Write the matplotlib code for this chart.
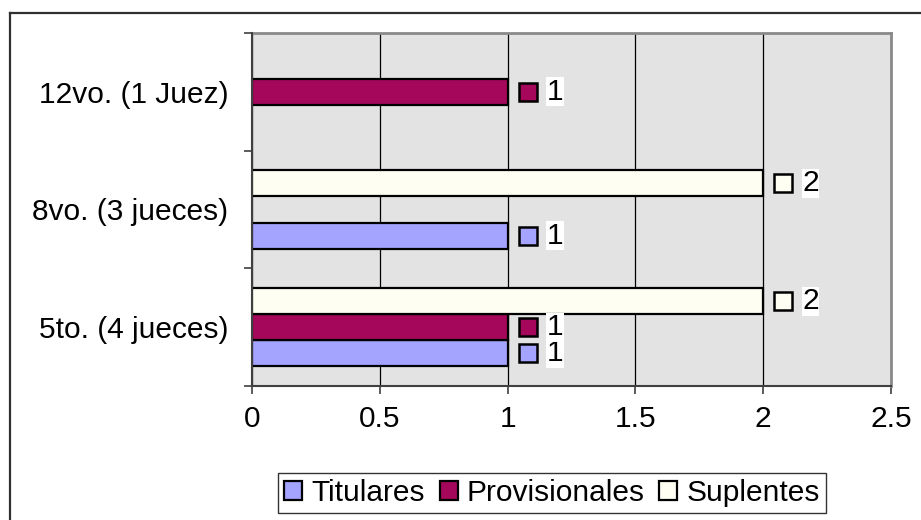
import numpy as np
import matplotlib.pyplot as plt
import matplotlib.transforms as mtransforms
from matplotlib.lines import Line2D

plt.rcParams['font.family'] = ['Liberation Sans', 'DejaVu Sans']

categorias = ['5to. (4 jueces)', '8vo. (3 jueces)', '12vo. (1 Juez)']
series = ['Titulares', 'Provisionales', 'Suplentes']
titulares = [1, 1, 0]
provisionales = [1, 0, 1]
suplentes = [2, 2, 0]
colores = ['#A4A4FF', '#A5085A', '#FEFEF2']
x_ticks = [0, 0.5, 1, 1.5, 2, 2.5]

fs = 21.5
fig = plt.figure(figsize=(9.21, 5.2), dpi=100)
ax = fig.add_axes([252 / 921, 1 - 386 / 520, 639 / 921, 353 / 520])
ax.set_facecolor('#E3E3E3')

valores = [titulares, provisionales, suplentes]
h = 0.221
y = np.arange(len(categorias))
for i, (vals, col) in enumerate(zip(valores, colores)):
    off = (i - 1) * h
    for yy, v in zip(y, vals):
        if v == 0:
            continue
        ax.barh(yy + off, v, height=h, color=col, edgecolor='black',
                linewidth=1.6, zorder=3)
        # legend key + value label
        tr_m = mtransforms.offset_copy(ax.transData, fig, x=20, y=0, units='dots')
        ax.plot([v], [yy + off], marker='s', ms=13, mfc=col, mec='black',
                mew=1.8, transform=tr_m, zorder=5, clip_on=False)
        tr_t = mtransforms.offset_copy(ax.transData, fig, x=39, y=0, units='dots')
        ax.text(v, yy + off, str(v), transform=tr_t, fontsize=fs,
                va='center', ha='left', zorder=5,
                bbox=dict(fc='white', ec='none', pad=0.5))

ax.set_xlim(0, 2.5)
ax.set_ylim(-0.5, 2.5)
ax.set_xticks(x_ticks)
ax.set_xticklabels(['0', '0.5', '1', '1.5', '2', '2.5'], fontsize=fs)
ax.set_yticks(y)
ax.set_yticklabels(categorias, fontsize=fs)
ax.set_yticks([-0.5, 0.5, 1.5, 2.5], minor=True)
ax.tick_params(axis='y', which='major', length=0, pad=17)
ax.tick_params(axis='y', which='minor', length=6, width=1.2, color='#404040')
ax.tick_params(axis='x', length=6, width=1.2, color='#404040', pad=8)
ax.grid(axis='x', color='black', linewidth=0.9, zorder=1)
for s in ['left', 'bottom']:
    ax.spines[s].set_color('#404040')
    ax.spines[s].set_linewidth(1.5)
    ax.spines[s].set_zorder(4)
for s in ['top', 'right']:
    ax.spines[s].set_color('#8A8A8A')
    ax.spines[s].set_linewidth(2)

handles = [plt.Rectangle((0, 0), 1, 1, fc=c, ec='black', lw=1.6) for c in colores]
leg = fig.legend(handles, series, loc='center', bbox_to_anchor=(552 / 921, 1 - 493 / 520),
                 ncol=3, fontsize=fs, frameon=True, fancybox=False,
                 handlelength=0.6, handleheight=0.6, handletextpad=0.3,
                 columnspacing=0.5, borderpad=0.2, borderaxespad=0)
leg.get_frame().set_edgecolor('black')
leg.get_frame().set_linewidth(1)

# outer chart frame
fig.add_artist(Line2D([10 / 921, 10 / 921], [0, 1 - 13 / 520], color='#303030',
                      lw=1.6, transform=fig.transFigure))
fig.add_artist(Line2D([10 / 921, 1], [1 - 13 / 520, 1 - 13 / 520], color='#303030',
                      lw=1.6, transform=fig.transFigure))

fig.savefig('out.png', dpi=100)
